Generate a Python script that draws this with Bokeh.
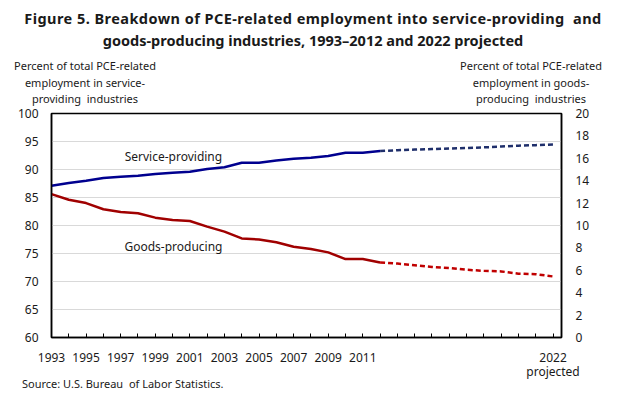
from bokeh.plotting import figure
from bokeh.models import Range1d, LinearAxis, FixedTicker, Label, Div
from bokeh.layouts import column
from bokeh.embed import file_html
from bokeh.resources import INLINE

# ---- data ----
years_hist = list(range(1993, 2013))
service_hist = [87.1, 87.6, 88.0, 88.5, 88.7, 88.9, 89.2, 89.4, 89.6, 90.1,
                90.4, 91.2, 91.2, 91.6, 91.9, 92.1, 92.4, 93.0, 93.0, 93.3]
goods_hist = [12.8, 12.3, 12.0, 11.45, 11.2, 11.1, 10.7, 10.5, 10.4, 9.9,
              9.45, 8.85, 8.75, 8.5, 8.1, 7.9, 7.6, 7.0, 7.0, 6.7]
years_proj = list(range(2012, 2023))
service_proj = [93.3, 93.45, 93.55, 93.65, 93.75, 93.85, 93.95, 94.1, 94.25, 94.35, 94.45]
goods_proj = [6.7, 6.6, 6.45, 6.3, 6.2, 6.05, 5.95, 5.9, 5.7, 5.65, 5.45]
x_labels = {1993: "1993", 1995: "1995", 1997: "1997", 1999: "1999", 2001: "2001",
            2003: "2003", 2005: "2005", 2007: "2007", 2009: "2009", 2011: "2011",
            2022: "2022\nprojected"}
left_ticks = [60, 65, 70, 75, 80, 85, 90, 95, 100]
right_ticks = [0, 2, 4, 6, 8, 10, 12, 14, 16, 18, 20]
title_lines = ["Figure 5. Breakdown of PCE-related employment into service-providing&nbsp; and",
               "goods-producing industries, 1993\u20132012 and 2022 projected"]
left_title = ["Percent of total PCE-related", "employment in service-", "providing&nbsp; industries"]
right_title = ["Percent of total PCE-related", "employment in goods-", "producing&nbsp; industries"]
source = "Source: U.S. Bureau&nbsp; of Labor Statistics."

FONT = "Noto Sans"
TXT = "#1a1a1a"
W = 617
HEAD_H = 105

# ---- header (title and axis titles) ----
head_html = (
    f'<div style="position:relative;width:{W}px;height:{HEAD_H}px;font-family:\'{FONT}\';color:{TXT};">'
    f'<div style="position:absolute;left:0;top:7px;width:626px;text-align:center;'
    f'font-weight:bold;font-size:14.5px;line-height:22px;white-space:nowrap;">'
    f'<span style="letter-spacing:0.45px;">{title_lines[0]}</span><br>{title_lines[1]}</div>'
    f'<div style="position:absolute;left:5px;top:58px;width:160px;text-align:center;'
    f'font-size:11px;line-height:16.5px;white-space:nowrap;">'
    + "<br>".join(left_title) + '</div>'
    f'<div style="position:absolute;left:451px;top:58px;width:160px;text-align:center;'
    f'font-size:11px;line-height:16.5px;white-space:nowrap;">'
    + "<br>".join(right_title) + '</div>'
    '</div>'
)
head = Div(text=head_html, width=W, height=HEAD_H, margin=(0, 0, 0, 0))

# ---- chart ----
p = figure(width=W, height=277, output_backend="svg", toolbar_location=None,
           x_range=Range1d(1993, 2022.49), y_range=Range1d(60, 100),
           min_border_left=51, min_border_right=56, min_border_top=8,
           min_border_bottom=40, margin=(0, 0, 0, 0))
p.extra_y_ranges = {"r": Range1d(0, 20)}
p.outline_line_color = "black"
p.outline_line_width = 1.5
p.background_fill_color = "white"
p.border_fill_color = None

p.xgrid.visible = False
p.ygrid.grid_line_color = "#d9d9d9"
p.ygrid.ticker = FixedTicker(ticks=left_ticks)

xa = p.xaxis[0]
xa.ticker = FixedTicker(ticks=list(range(1993, 2023)))
xa.major_label_overrides = {y: x_labels.get(y, "") for y in range(1993, 2023)}
xa.major_tick_in = 4
xa.major_tick_out = 0
xa.minor_tick_line_color = None
xa.axis_line_color = "black"
xa.axis_line_width = 1.5
xa.major_tick_line_color = "black"
xa.major_label_text_font = FONT
xa.major_label_text_font_size = "12px"
xa.major_label_text_color = TXT
xa.major_label_text_line_height = 0.85
xa.major_label_standoff = 11

ya = p.yaxis[0]
ya.ticker = FixedTicker(ticks=left_ticks)
ya.major_tick_in = 0
ya.major_tick_out = 0
ya.minor_tick_line_color = None
ya.axis_line_color = "black"
ya.axis_line_width = 1.5
ya.major_label_text_font = FONT
ya.major_label_text_font_size = "12px"
ya.major_label_text_color = TXT
ya.major_label_standoff = 13

ra = LinearAxis(y_range_name="r", ticker=FixedTicker(ticks=right_ticks))
ra.major_tick_in = 0
ra.major_tick_out = 0
ra.minor_tick_line_color = None
ra.axis_line_color = "black"
ra.axis_line_width = 1.5
ra.major_label_text_font = FONT
ra.major_label_text_font_size = "12px"
ra.major_label_text_color = TXT
ra.major_label_standoff = 14
p.add_layout(ra, "right")

p.line(years_hist, service_hist, line_color="#00008f", line_width=2.5)
p.line(years_proj, service_proj, line_color="#1f2f6b", line_width=2.5, line_dash="5 3")
p.line(years_hist, goods_hist, line_color="#a00000", line_width=2.5, y_range_name="r")
p.line(years_proj, goods_proj, line_color="#c00000", line_width=2.5, line_dash="5 3",
       y_range_name="r")

p.add_layout(Label(x=2000.05, y=92.35, text="Service-providing", text_font=FONT,
                   text_font_size="12px", text_color=TXT, text_align="center",
                   text_baseline="middle"))
p.add_layout(Label(x=2000.05, y=76.3, text="Goods-producing", text_font=FONT,
                   text_font_size="12px", text_color=TXT, text_align="center",
                   text_baseline="middle"))

# ---- footer ----
foot_html = (f'<div style="position:relative;width:{W}px;height:9px;font-family:\'{FONT}\';'
             f'color:{TXT};"><div style="position:absolute;left:22px;top:-8px;font-size:11px;'
             f'line-height:14px;white-space:nowrap;">{source}</div></div>')
foot = Div(text=foot_html, width=W, height=9, margin=(0, 0, 0, 0))

layout = column(head, p, foot, spacing=0, margin=(0, 0, 0, 0))
open("out.html", "w").write(file_html(layout, INLINE))
